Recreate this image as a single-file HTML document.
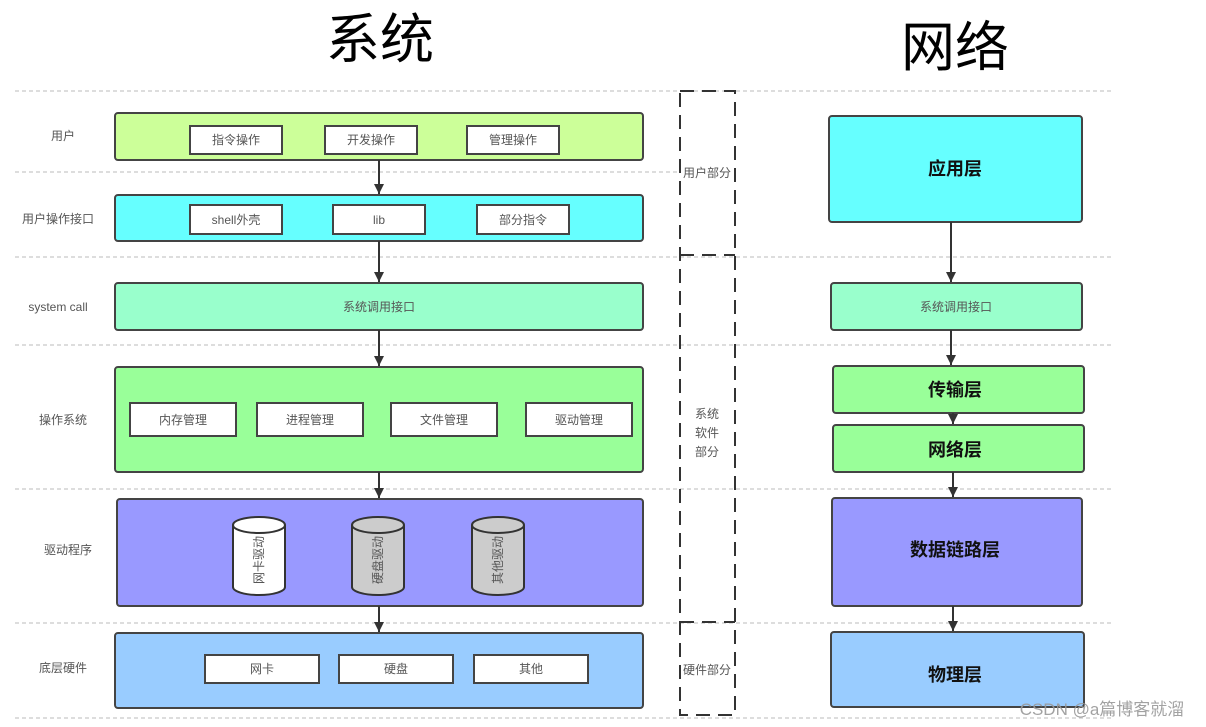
<!DOCTYPE html>
<html><head><meta charset="utf-8"><style>
html,body{margin:0;padding:0;background:#fff;}
svg{display:block;font-family:"Liberation Sans","Noto Sans CJK SC",sans-serif;}
</style></head><body>
<svg width="1206" height="727" viewBox="0 0 1206 727" xmlns="http://www.w3.org/2000/svg">
<defs><marker id="a" markerWidth="10" markerHeight="10" refX="10" refY="5" orient="auto" markerUnits="userSpaceOnUse"><path d="M0,0 L10,5 L0,10 z" fill="#333"/></marker></defs>
<text x="380" y="58" font-size="54" text-anchor="middle" fill="#000">系统</text>
<text x="955" y="66" font-size="54" text-anchor="middle" fill="#000">网络</text>
<g stroke="#bbb" stroke-width="1" stroke-dasharray="4,3">
<line x1="15" y1="91" x2="1113" y2="91"/>
<line x1="15" y1="172" x2="680" y2="172"/>
<line x1="15" y1="257" x2="1113" y2="257"/>
<line x1="15" y1="345" x2="1113" y2="345"/>
<line x1="15" y1="489" x2="1113" y2="489"/>
<line x1="15" y1="623" x2="1113" y2="623"/>
<line x1="15" y1="718" x2="1113" y2="718"/>
</g>
<g stroke="#333" stroke-width="2" fill="none" stroke-dasharray="14,8">
<rect x="680" y="91" width="55" height="624"/>
<line x1="680" y1="255" x2="735" y2="255"/>
<line x1="680" y1="622" x2="735" y2="622"/>
</g>
<g font-size="12" fill="#555" text-anchor="middle">
<text x="707" y="177">用户部分</text>
<text x="707" y="418">系统</text><text x="707" y="437">软件</text><text x="707" y="456">部分</text>
<text x="707" y="674">硬件部分</text>
<text x="63" y="140">用户</text>
<text x="58" y="223">用户操作接口</text>
<text x="58" y="311">system call</text>
<text x="63" y="424">操作系统</text>
<text x="68" y="554">驱动程序</text>
<text x="63" y="672">底层硬件</text>
</g>
<g stroke="#444" stroke-width="2">
<rect x="115" y="113" width="528" height="47" rx="3" fill="#ccff99"/>
<rect x="115" y="195" width="528" height="46" rx="3" fill="#66ffff"/>
<rect x="115" y="283" width="528" height="47" rx="3" fill="#99ffcc"/>
<rect x="115" y="367" width="528" height="105" rx="3" fill="#99ff99"/>
<rect x="117" y="499" width="526" height="107" rx="3" fill="#9999ff"/>
<rect x="115" y="633" width="528" height="75" rx="3" fill="#99ccff"/>
<rect x="829" y="116" width="253" height="106" rx="3" fill="#66ffff"/>
<rect x="831" y="283" width="251" height="47" rx="3" fill="#99ffcc"/>
<rect x="833" y="366" width="251" height="47" rx="3" fill="#99ff99"/>
<rect x="833" y="425" width="251" height="47" rx="3" fill="#99ff99"/>
<rect x="832" y="498" width="250" height="108" rx="3" fill="#9999ff"/>
<rect x="831" y="632" width="253" height="75" rx="3" fill="#99ccff"/>
</g>
<g stroke="#444" stroke-width="2" fill="#fff">
<rect x="190" y="126" width="92" height="28"/><rect x="325" y="126" width="92" height="28"/><rect x="467" y="126" width="92" height="28"/>
<rect x="190" y="205" width="92" height="29"/><rect x="333" y="205" width="92" height="29"/><rect x="477" y="205" width="92" height="29"/>
<rect x="130" y="403" width="106" height="33"/><rect x="257" y="403" width="106" height="33"/><rect x="391" y="403" width="106" height="33"/><rect x="526" y="403" width="106" height="33"/>
<rect x="205" y="655" width="114" height="28"/><rect x="339" y="655" width="114" height="28"/><rect x="474" y="655" width="114" height="28"/>
</g>
<g stroke="#333" stroke-width="2">
<path d="M233,525 v62 a26,8 0 0 0 52,0 v-62" fill="#fff"/><ellipse cx="259" cy="525" rx="26" ry="8" fill="#fff"/>
<path d="M352,525 v62 a26,8 0 0 0 52,0 v-62" fill="#ccc"/><ellipse cx="378" cy="525" rx="26" ry="8" fill="#ccc"/>
<path d="M472,525 v62 a26,8 0 0 0 52,0 v-62" fill="#ccc"/><ellipse cx="498" cy="525" rx="26" ry="8" fill="#ccc"/>
</g>
<g font-size="12" fill="#555" text-anchor="middle">
<text x="236" y="144">指令操作</text><text x="371" y="144">开发操作</text><text x="513" y="144">管理操作</text>
<text x="236" y="224">shell外壳</text><text x="379" y="224">lib</text><text x="523" y="224">部分指令</text>
<text x="379" y="311">系统调用接口</text>
<text x="183" y="424">内存管理</text><text x="310" y="424">进程管理</text><text x="444" y="424">文件管理</text><text x="579" y="424">驱动管理</text>
<text x="262" y="673">网卡</text><text x="396" y="673">硬盘</text><text x="531" y="673">其他</text>
<text x="956" y="311">系统调用接口</text>
<text transform="translate(263,560) rotate(-90)">网卡驱动</text>
<text transform="translate(382,560) rotate(-90)">硬盘驱动</text>
<text transform="translate(502,560) rotate(-90)">其他驱动</text>
</g>
<g font-size="18" font-weight="bold" fill="#111" text-anchor="middle">
<text x="955" y="175">应用层</text>
<text x="955" y="396">传输层</text>
<text x="955" y="456">网络层</text>
<text x="955" y="556">数据链路层</text>
<text x="955" y="681">物理层</text>
</g>
<g stroke="#333" stroke-width="2" marker-end="url(#a)">
<line x1="379" y1="160" x2="379" y2="194"/>
<line x1="379" y1="241" x2="379" y2="282"/>
<line x1="379" y1="330" x2="379" y2="366"/>
<line x1="379" y1="472" x2="379" y2="498"/>
<line x1="379" y1="606" x2="379" y2="632"/>
<line x1="951" y1="222" x2="951" y2="282"/>
<line x1="951" y1="330" x2="951" y2="365"/>
<line x1="953" y1="413" x2="953" y2="424"/>
<line x1="953" y1="472" x2="953" y2="497"/>
<line x1="953" y1="606" x2="953" y2="631"/>
</g>
<text x="1102" y="715" font-size="17" fill="#999" text-anchor="middle" opacity="0.9">CSDN @a篇博客就溜</text>
</svg>
</body></html>
